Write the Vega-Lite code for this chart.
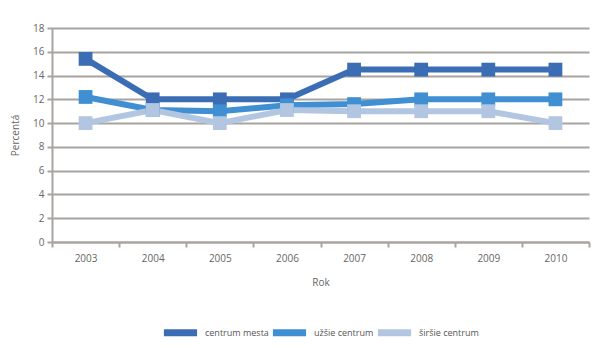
{
  "$schema": "https://vega.github.io/schema/vega-lite/v6.json",
  "autosize": {"type": "none"},
  "width": 537,
  "height": 214,
  "padding": {"left": 52, "top": 28, "right": 11, "bottom": 115},
  "background": "white",
  "data": {
    "values": [
      {"rok": "2003", "serie": "centrum mesta", "v": 15.4},
      {"rok": "2004", "serie": "centrum mesta", "v": 12},
      {"rok": "2005", "serie": "centrum mesta", "v": 12},
      {"rok": "2006", "serie": "centrum mesta", "v": 12},
      {"rok": "2007", "serie": "centrum mesta", "v": 14.5},
      {"rok": "2008", "serie": "centrum mesta", "v": 14.5},
      {"rok": "2009", "serie": "centrum mesta", "v": 14.5},
      {"rok": "2010", "serie": "centrum mesta", "v": 14.5},
      {"rok": "2003", "serie": "užšie centrum", "v": 12.2},
      {"rok": "2004", "serie": "užšie centrum", "v": 11.1},
      {"rok": "2005", "serie": "užšie centrum", "v": 11.0},
      {"rok": "2006", "serie": "užšie centrum", "v": 11.5},
      {"rok": "2007", "serie": "užšie centrum", "v": 11.6},
      {"rok": "2008", "serie": "užšie centrum", "v": 12},
      {"rok": "2009", "serie": "užšie centrum", "v": 12},
      {"rok": "2010", "serie": "užšie centrum", "v": 12},
      {"rok": "2003", "serie": "širšie centrum", "v": 10},
      {"rok": "2004", "serie": "širšie centrum", "v": 11.1},
      {"rok": "2005", "serie": "širšie centrum", "v": 10},
      {"rok": "2006", "serie": "širšie centrum", "v": 11.1},
      {"rok": "2007", "serie": "širšie centrum", "v": 11},
      {"rok": "2008", "serie": "širšie centrum", "v": 11},
      {"rok": "2009", "serie": "širšie centrum", "v": 11},
      {"rok": "2010", "serie": "širšie centrum", "v": 10}
    ]
  },
  "config": {
    "view": {"stroke": null},
    "font": "Open Sans",
    "axis": {
      "labelFont": "Open Sans",
      "titleFont": "Open Sans",
      "labelColor": "#666666",
      "titleColor": "#666666",
      "labelFontSize": 10,
      "titleFontSize": 10,
      "titleFontWeight": "normal",
      "domainColor": "#a8a4a0",
      "domainWidth": 2,
      "tickColor": "#a8a4a0",
      "tickWidth": 2
    }
  },
  "encoding": {
    "x": {
      "field": "rok",
      "type": "ordinal",
      "scale": {"type": "band", "paddingInner": 0, "paddingOuter": 0},
      "axis": {"title": "Rok", "labelAngle": 0, "tickBand": "extent", "tickSize": 5, "labelPadding": 6, "titlePadding": 14, "grid": false}
    },
    "y": {
      "field": "v",
      "type": "quantitative",
      "scale": {"domain": [0, 18]},
      "axis": {"title": "Percentá", "values": [0, 2, 4, 6, 8, 10, 12, 14, 16, 18], "grid": true, "gridColor": "#a8a4a0", "gridWidth": 2, "tickSize": 5, "labelPadding": 3, "titlePadding": 12}
    },
    "color": {
      "field": "serie",
      "type": "nominal",
      "sort": ["centrum mesta", "užšie centrum", "širšie centrum"],
      "scale": {"domain": ["centrum mesta", "užšie centrum", "širšie centrum"], "range": ["#3b6db4", "#3f8fd2", "#b2c6e2"]},
      "legend": {
        "title": null,
        "orient": "none",
        "direction": "horizontal",
        "legendX": 108,
        "legendY": 284,
        "symbolType": "stroke",
        "symbolStrokeWidth": 7,
        "symbolSize": 1100,
        "labelFont": "Open Sans",
        "labelFontSize": 9,
        "labelColor": "#555555",
        "labelOffset": 4,
        "columnPadding": -24,
        "symbolOffset": 0
      }
    }
  },
  "layer": [
    {"mark": {"type": "line", "strokeWidth": 6}},
    {"mark": {"type": "point", "shape": "square", "filled": true, "size": 190, "opacity": 1}}
  ]
}
